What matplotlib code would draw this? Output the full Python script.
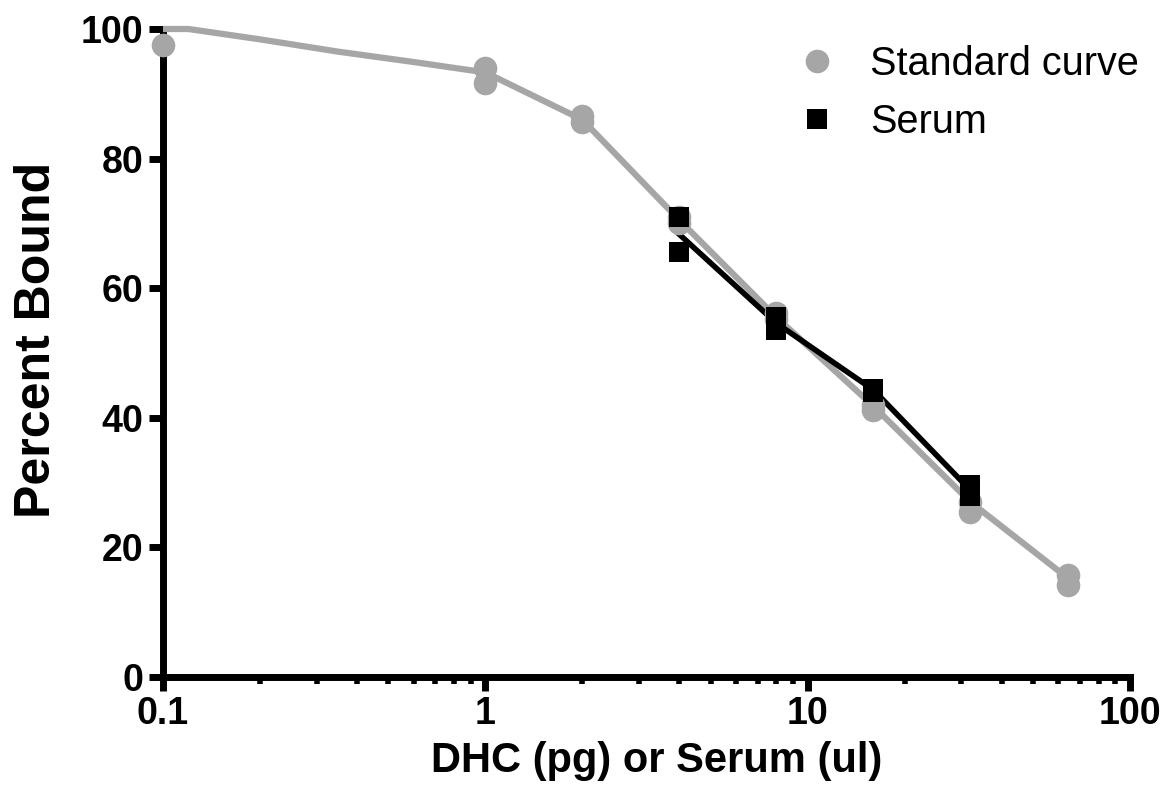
import numpy as np
import matplotlib
matplotlib.use('Agg')
import matplotlib.pyplot as plt
from matplotlib.ticker import LogLocator, FixedLocator, NullFormatter

plt.rcParams['font.family'] = ['Liberation Sans', 'DejaVu Sans']

# Standard curve replicates (gray circles)
std_x = [0.1, 1, 1, 2, 2, 4, 4, 8, 8, 16, 16, 32, 32, 64, 64]
std_y = [97.5, 94.0, 91.7, 86.5, 85.7, 70.0, 71.0, 56.2, 55.3, 41.2, 42.0, 25.4, 27.0, 15.8, 14.2]

# Fitted standard curve
fit_x = [0.1, 0.12, 0.2, 0.35, 0.6, 1, 2, 4, 8, 16, 32, 64]
fit_y = [100.0, 100.0, 98.4, 96.5, 94.9, 93.3, 86.0, 70.5, 55.5, 41.8, 27.0, 15.3]

# Serum replicates (black squares)
serum_x = [4, 4, 8, 8, 16, 16, 32, 32]
serum_y = [71.0, 65.6, 55.5, 53.6, 44.5, 44.0, 29.6, 27.9]

# Serum mean line
serum_line_x = [4, 8, 16, 32]
serum_line_y = [68.3, 54.6, 44.3, 28.8]

gray = '#a6a6a6'

fig = plt.figure(figsize=(11.73, 7.91), dpi=100)
ax = fig.add_axes([163 / 1173, 1 - 677 / 791, (1130 - 163) / 1173, (677 - 29) / 791])

ax.plot(fit_x, fit_y, color=gray, lw=4.5, zorder=3, clip_on=False, solid_capstyle='butt')
ax.plot(serum_line_x, serum_line_y, color='black', lw=4.0, zorder=4, clip_on=False)
ax.plot(std_x, std_y, 'o', color=gray, ms=17, mew=0, zorder=5, clip_on=False,
        label='Standard curve')
ax.plot(serum_x, serum_y, 's', color='black', ms=14, mew=0, zorder=6, clip_on=False,
        label='Serum')

ax.set_xscale('log')
ax.set_xlim(0.1, 100)
ax.set_ylim(0, 100)

ax.xaxis.set_major_locator(FixedLocator([0.1, 1, 10, 100]))
ax.set_xticklabels(['0.1', '1', '10', '100'])
ax.xaxis.set_minor_locator(LogLocator(base=10, subs=np.arange(2, 10)))
ax.xaxis.set_minor_formatter(NullFormatter())
ax.set_yticks([0, 20, 40, 60, 80, 100])

for side in ['top', 'right']:
    ax.spines[side].set_visible(False)
for side in ['left', 'bottom']:
    ax.spines[side].set_linewidth(5)
    ax.spines[side].set_capstyle('projecting')

ax.tick_params(axis='both', which='major', length=10, width=5, labelsize=27, pad=4)
ax.tick_params(axis='x', which='minor', length=5, width=4)
ax.tick_params(axis='y', which='minor', length=0)
for lab in ax.get_xticklabels() + ax.get_yticklabels():
    lab.set_fontweight('bold')

ax.set_xlabel('DHC (pg) or Serum (ul)', fontsize=30, fontweight='bold', labelpad=6, x=0.511)
ax.set_ylabel('Percent Bound', fontsize=36, fontweight='bold', labelpad=15, y=0.52)

leg = ax.legend(loc='upper right', bbox_to_anchor=(1.046, 1.03), frameon=False, fontsize=28.5,
                handletextpad=0.65, labelspacing=0.5, handlelength=1.4)

fig.savefig('out.png', dpi=100)
